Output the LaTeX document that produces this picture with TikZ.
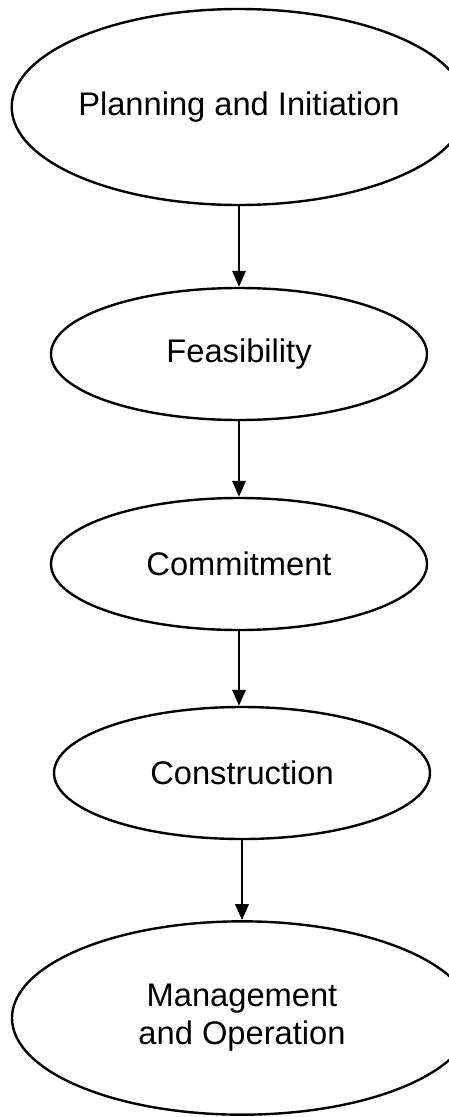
\documentclass[tikz,border=0pt]{standalone}
\usepackage{fontspec}
\setmainfont{Liberation Sans}
\usepackage{tikz}
\usetikzlibrary{positioning,shapes.geometric,arrows.meta}
\tikzset{every picture/.style={line width=1.8pt}}
\tikzset{phase/.style={draw, ellipse, inner sep=0pt, align=center, font=\fontsize{24.5}{28.5}\selectfont},
         flow/.style={-{Triangle[length=12pt,width=10pt]}}}

\begin{document}
\begin{tikzpicture}[x=0.75pt,y=0.75pt,yscale=-1,xscale=1]
\useasboundingbox (0,0) rectangle (449,1117);
\clip (0,0) rectangle (449,1117);

%Shape: Ellipse [planning]
\node [phase, minimum width=334.5pt, minimum height=147pt] (planning) at (239,107) {Planning and Initiation};
%Shape: Ellipse [feasibility]
\node [phase, minimum width=282pt, minimum height=99pt] (feasibility) at (239,354) {Feasibility};
%Shape: Ellipse [commitment]
\node [phase, minimum width=282pt, minimum height=99pt] (commitment) at (239,564) {Commitment};
%Shape: Ellipse [construction]
\node [phase, minimum width=282pt, minimum height=99pt] (construction) at (242,773) {Construction};
%Shape: Ellipse [management]
\node [phase, minimum width=345pt, minimum height=145pt] (management) at (242,1018) {Management\\and Operation};

%Straight Lines
\draw [flow] (planning.south) -- (feasibility.north);
\draw [flow] (feasibility.south) -- (commitment.north);
\draw [flow] (commitment.south) -- (commitment.south |- construction.north);
\draw [flow] (construction.south) -- (management.north);

\end{tikzpicture}
\end{document}
